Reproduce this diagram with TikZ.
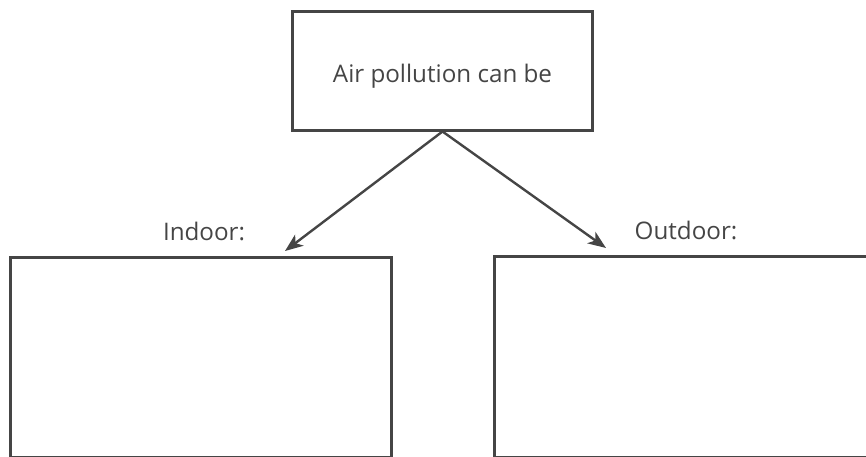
\documentclass[tikz,border=0pt]{standalone}
\usepackage{fontspec}
\setmainfont{Open Sans}
\usepackage{tikz}
\usetikzlibrary{arrows.meta}
\definecolor{penGray}{HTML}{454545}

\begin{document}
\begin{tikzpicture}[x=1pt, y=-1pt,
    box/.style={draw=penGray, line width=3pt, rectangle, inner sep=0pt},
    caption/.style={text=penGray, font=\fontsize{24.2}{28}\selectfont, anchor=base, inner sep=0pt},
    link/.style={draw=penGray, line width=2.4pt, -{Stealth[length=18pt, width=14pt, inset=5pt]}}]
    \useasboundingbox (0,0) rectangle (866,456);
    \clip (0,0) rectangle (866,456);

    \node[box, minimum width=300pt, minimum height=119pt] (top) at (442.5, 70.5) {};
    \node[caption] (topText) at (442.5, 82) {Air pollution can be};

    \node[box, minimum width=381pt, minimum height=200.3pt] (indoor) at (200.5, 357.15) {};
    \node[box, minimum width=386pt, minimum height=201.3pt] (outdoor) at (687, 356.65) {};

    \node[caption] (indoorText) at (204, 240) {Indoor:};
    \node[caption] (outdoorText) at (686, 239) {Outdoor:};

    \coordinate (indoorTip) at (285, 251);
    \coordinate (outdoorTip) at (606, 248);

    \draw[link] (top.south) -- (indoorTip);
    \draw[link] (top.south) -- (outdoorTip);
\end{tikzpicture}
\end{document}
